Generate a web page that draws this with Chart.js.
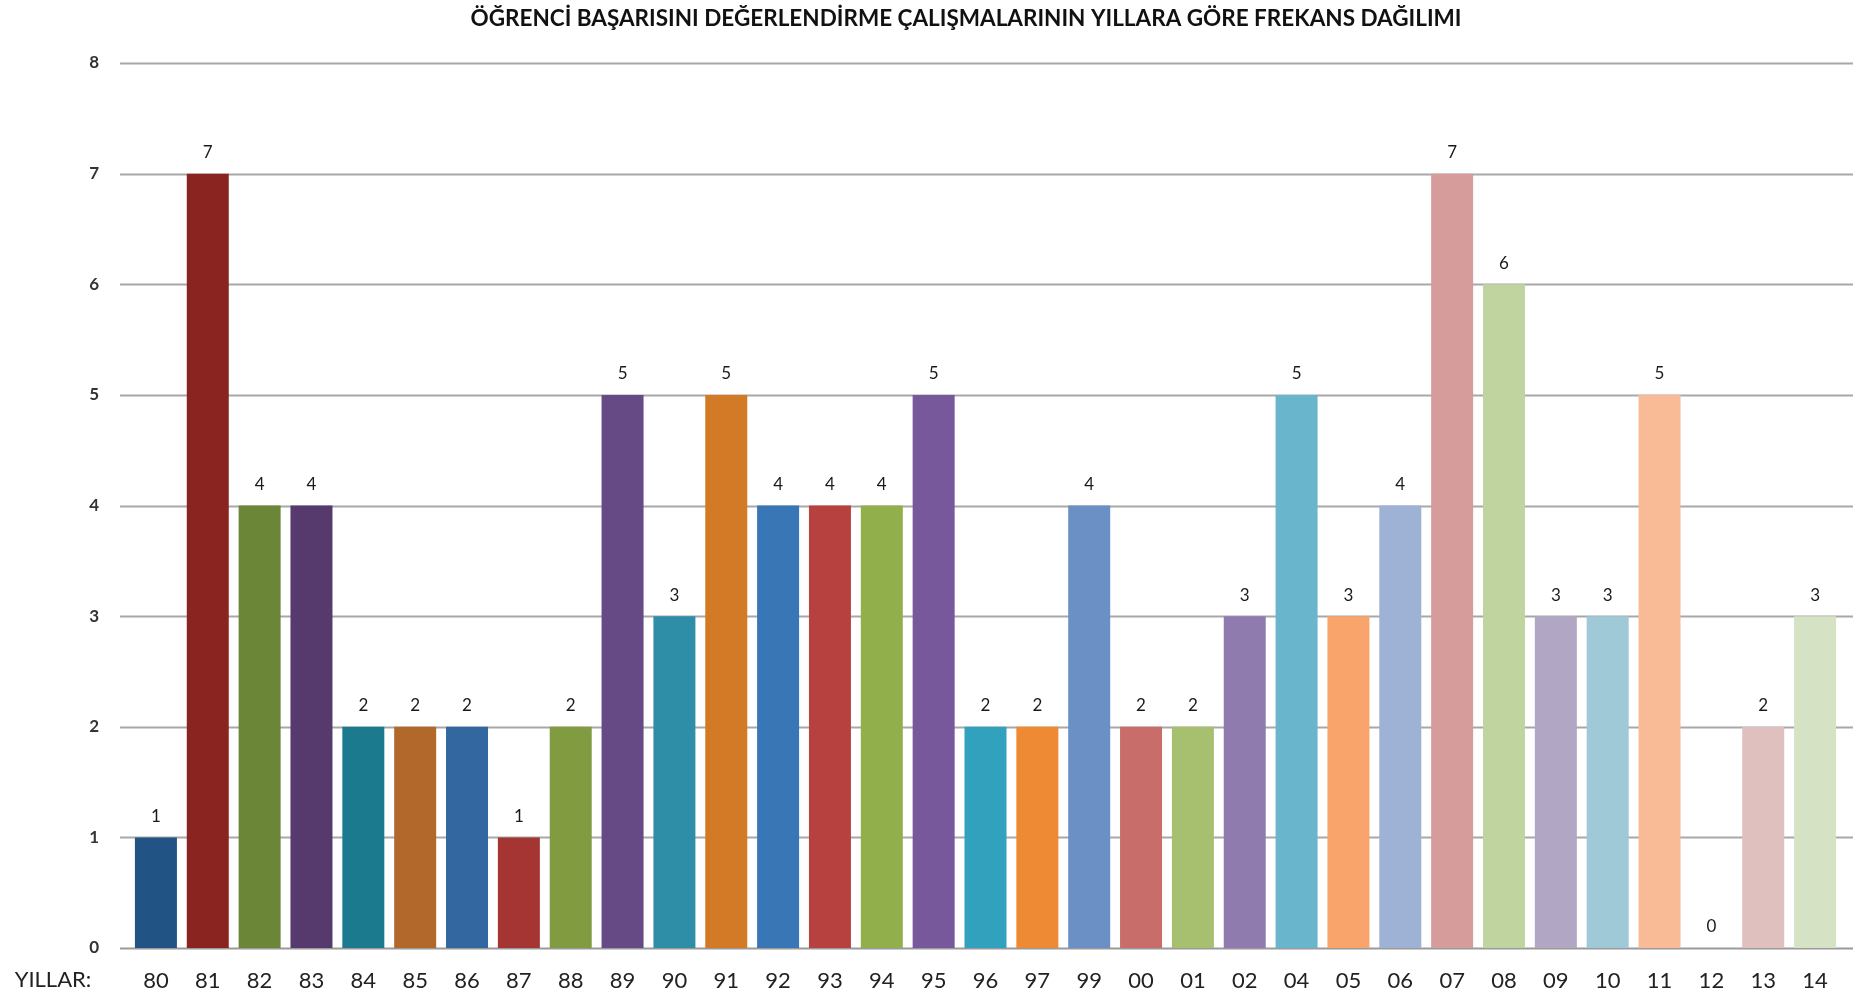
<!DOCTYPE html>
<html>
<head>
<meta charset="utf-8">
<script src="https://cdn.jsdelivr.net/npm/chart.js@4/dist/chart.umd.min.js"></script>
<style>
  html, body { margin: 0; padding: 0; background: #ffffff; }
  #wrap { width: 1856px; height: 995px; position: relative; }
</style>
</head>
<body>
<div id="wrap"><canvas id="c" width="1856" height="995"></canvas></div>
<script>
const chartTitle = "ÖĞRENCİ BAŞARISINI DEĞERLENDİRME ÇALIŞMALARININ YILLARA GÖRE FREKANS DAĞILIMI";
const axisCaption = "YILLAR:";
const years = ["80","81","82","83","84","85","86","87","88","89","90","91","92","93","94","95","96","97","99","00","01","02","04","05","06","07","08","09","10","11","12","13","14"];
const frequencies = [1,7,4,4,2,2,2,1,2,5,3,5,4,4,4,5,2,2,4,2,2,3,5,3,4,7,6,3,3,5,0,2,3];
const yTicks = [0,1,2,3,4,5,6,7,8];
const barColors = [
  "#215384","#8a2421","#6b8637","#56396d","#1b7a8d","#b2682a",
  "#32679f","#a43533","#809b40","#664a86","#2e8ea7","#d37a27",
  "#3976b6","#b7413e","#91af4b","#77589a","#32a1be","#ed8a33",
  "#6a90c5","#c96d6b","#a7c070","#8f7bad","#69b5cc","#f8a46b",
  "#9eb2d5","#d69c9b","#c0d4a0","#b1a6c3","#a0c9d8","#f8bb96",
  "#b9cbe6","#e0bfbf","#d5e2c4"
];

const FONT = "Lato, 'Open Sans', 'DejaVu Sans', sans-serif";

const decorPlugin = {
  id: 'decor',
  beforeDatasetsDraw(chart) {
    const ctx = chart.ctx;
    const y = chart.scales.y;
    const area = chart.chartArea;
    ctx.save();
    yTicks.forEach(v => {
      const py = Math.round(y.getPixelForValue(v)) + 0.5;
      ctx.beginPath();
      ctx.strokeStyle = v === 0 ? "#9a9a9a" : "#a8a8a8";
      ctx.lineWidth = 2;
      ctx.moveTo(area.left - 10, py);
      ctx.lineTo(area.right + 12, py);
      ctx.stroke();
    });
    ctx.restore();
  },
  afterDatasetsDraw(chart) {
    const ctx = chart.ctx;
    const meta = chart.getDatasetMeta(0);
    ctx.save();
    ctx.fillStyle = "#1a1a1a";
    ctx.font = "17px " + FONT;
    ctx.textAlign = "center";
    ctx.textBaseline = "middle";
    meta.data.forEach((bar, i) => {
      ctx.fillText(String(frequencies[i]), bar.x, bar.y - 21);
    });
    // title
    ctx.fillStyle = "#111111";
    ctx.font = "bold 22.5px " + FONT;
    ctx.textAlign = "center";
    ctx.textBaseline = "middle";
    ctx.fillText(chartTitle, 966, 19);
    // axis caption
    ctx.fillStyle = "#222222";
    ctx.font = "22px " + FONT;
    ctx.textAlign = "center";
    ctx.fillText(axisCaption, 53, 980);
    ctx.restore();
  }
};

new Chart(document.getElementById('c'), {
  type: 'bar',
  data: {
    labels: years,
    datasets: [{
      data: frequencies,
      backgroundColor: barColors,
      borderWidth: 0,
      barPercentage: 0.81,
      categoryPercentage: 1.0
    }]
  },
  options: {
    responsive: false,
    animation: false,
    devicePixelRatio: 1,
    layout: { padding: { top: 63, right: 15, bottom: 0, left: 0 } },
    plugins: {
      legend: { display: false },
      title: { display: false },
      tooltip: { enabled: false }
    },
    scales: {
      x: {
        offset: true,
        grid: { display: false, drawTicks: false },
        border: { display: false },
        ticks: {
          color: "#222222",
          font: { family: FONT, size: 22 },
          padding: 20,
          maxRotation: 0,
          autoSkip: false
        },
        afterFit(scale) { scale.height = 47; }
      },
      y: {
        min: 0,
        max: 8,
        grid: { display: false, drawTicks: false },
        border: { display: false },
        afterBuildTicks(scale) { scale.ticks = yTicks.map(v => ({ value: v })); },
        ticks: {
          color: "#333333",
          font: { family: FONT, size: 17, weight: 'bold' },
          padding: 31
        },
        afterFit(scale) { scale.width = 130; }
      }
    }
  },
  plugins: [decorPlugin]
});
</script>
</body>
</html>
